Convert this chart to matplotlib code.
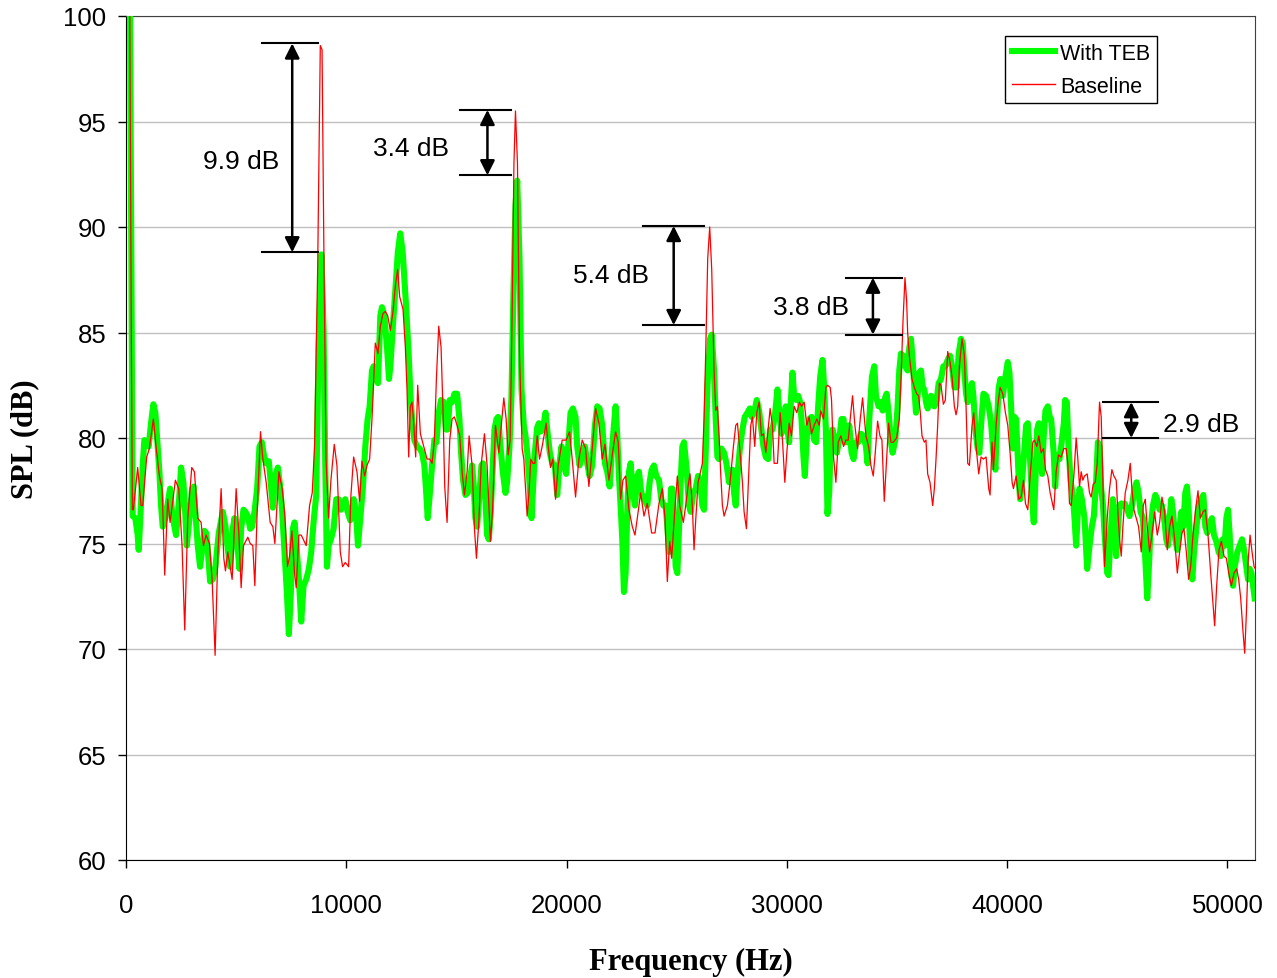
import matplotlib.pyplot as plt

# SPL spectra, baseline vs. with TEB
baseline_hz = [
    0, 160, 240, 290, 333, 530, 682, 758, 939, 1060, 1242, 1364, 1515, 1636, 1697, 1757,
    1894, 2000, 2242, 2394, 2545, 2666, 2803, 2985, 3106, 3257, 3409, 3515, 3636, 3788,
    3909, 4045, 4166, 4318, 4439, 4515, 4621, 4818, 5000, 5121, 5227, 5333, 5530, 5636,
    5757, 5848, 5954, 6105, 6212, 6363, 6545, 6666, 6757, 6939, 7090, 7211, 7333, 7424,
    7530, 7651, 7727, 7848, 7954, 8181, 8333, 8454, 8560, 8700, 8820, 8900, 8990, 9080,
    9196, 9302, 9454, 9575, 9727, 9833, 9954, 10105, 10211, 10333, 10484, 10605, 10711,
    10832, 10938, 11060, 11166, 11317, 11438, 11545, 11666, 11772, 11878, 12000, 12120,
    12226, 12330, 12423, 12575, 12681, 12757, 12832, 12908, 12984, 13060, 13150, 13241,
    13363, 13514, 13666, 13787, 13893, 14000, 14090, 14196, 14302, 14393, 14468, 14575,
    14696, 14802, 14908, 15029, 15150, 15256, 15362, 15484, 15575, 15711, 15817, 15908,
    16014, 16120, 16272, 16392, 16544, 16635, 16771, 16923, 17044, 17150, 17256, 17347,
    17438, 17529, 17610, 17680, 17771, 17862, 17983, 18059, 18135, 18210, 18286, 18377,
    18468, 18559, 18665, 18771, 18892, 19074, 19165, 19271, 19377, 19498, 19619, 19801,
    19983, 20134, 20255, 20407, 20558, 20710, 20861, 21013, 21164, 21316, 21467, 21619,
    21740, 21922, 22074, 22225, 22346, 22452, 22558, 22680, 22831, 22983, 23104, 23210,
    23361, 23513, 23664, 23861, 24013, 24195, 24346, 24467, 24573, 24679, 24770, 24907,
    25028, 25134, 25300, 25406, 25512, 25603, 25709, 25785, 25861, 25967, 26058, 26164,
    26240, 26315, 26406, 26497, 26588, 26694, 26770, 26846, 26921, 26997, 27073, 27149,
    27300, 27421, 27573, 27679, 27755, 27876, 27982, 28058, 28164, 28255, 28361, 28436,
    28542, 28633, 28739, 28845, 28936, 29042, 29148, 29239, 29345, 29421, 29572, 29694,
    29800, 29906, 29997, 30103, 30209, 30330, 30451, 30572, 30663, 30785, 30906, 31012,
    31118, 31239, 31360, 31466, 31542, 31663, 31769, 31845, 31966, 32027, 32118, 32224,
    32330, 32451, 32572, 32678, 32785, 32875, 32981, 33087, 33208, 33330, 33436, 33588,
    33709, 33815, 33921, 34012, 34118, 34224, 34315, 34421, 34527, 34618, 34724, 34830,
    34982, 35103, 35194, 35270, 35361, 35436, 35482, 35558, 35679, 35785, 35891, 35982,
    36057, 36133, 36239, 36315, 36391, 36497, 36618, 36694, 36770, 36845, 36921, 36997,
    37103, 37194, 37300, 37406, 37497, 37603, 37679, 37754, 37830, 37951, 38057, 38133,
    38209, 38285, 38406, 38481, 38588, 38709, 38815, 38921, 39042, 39163, 39224, 39315,
    39375, 39497, 39572, 39678, 39800, 39921, 40027, 40133, 40224, 40285, 40406, 40527,
    40633, 40739, 40830, 40936, 41042, 41163, 41239, 41345, 41436, 41542, 41648, 41739,
    41845, 41951, 42117, 42223, 42329, 42450, 42572, 42678, 42753, 42829, 42905, 43026,
    43132, 43208, 43284, 43360, 43435, 43511, 43632, 43738, 43814, 43905, 43996, 44087,
    44193, 44269, 44344, 44420, 44541, 44647, 44753, 44844, 44950, 45026, 45102, 45178,
    45253, 45359, 45481, 45587, 45662, 45753, 45859, 45965, 46087, 46177, 46268, 46359,
    46465, 46571, 46693, 46814, 46920, 47026, 47147, 47268, 47374, 47480, 47602, 47723,
    47829, 47935, 48026, 48132, 48238, 48329, 48435, 48541, 48662, 48768, 48889, 48995,
    49117, 49238, 49344, 49419, 49510, 49616, 49723, 49844, 49950, 50056, 50177, 50298,
    50419, 50510, 50601, 50707, 50783, 50859, 50935, 51026, 51116, 51208, 51268,
]
baseline_db = [
    103, 103, 85, 76.6, 76.6, 78.6, 76.8, 76.8, 79.1, 79.5, 80.9, 79.6, 78.2, 77.6, 75.7, 73.5,
    77.1, 76.0, 78.0, 77.6, 74.9, 70.9, 76.2, 78.6, 78.4, 76.2, 76.0, 74.9, 75.4, 75.0,
    73.3, 69.7, 74.4, 77.6, 74.3, 73.7, 74.6, 73.3, 77.6, 75.5, 72.9, 74.9, 75.3, 75.0,
    74.9, 73.0, 76.5, 80.3, 79.0, 77.9, 76.0, 75.8, 75.0, 78.4, 77.6, 76.3, 73.9, 74.4,
    75.6, 73.6, 72.9, 75.4, 75.4, 74.9, 76.8, 77.4, 79.6, 88.0, 98.6, 98.4, 88.0, 79.0,
    76.2, 78.0, 79.7, 78.7, 74.6, 73.9, 74.1, 73.9, 77.3, 79.1, 78.4, 77.0, 78.9,
    78.2, 78.7, 79.0, 80.9, 84.5, 84.0, 85.3, 85.9, 86.0, 85.8, 85.1, 86.0,
    87.2, 88.0, 86.7, 86.1, 84.3, 82.3, 79.1, 81.5, 81.7, 80.7, 79.1, 82.5,
    80.2, 79.6, 79.0, 79.0, 78.8, 79.9, 82.8, 85.3, 84.3, 81.2, 77.7, 76.0,
    79.9, 80.9, 81.0, 80.6, 80.1, 78.4, 77.3, 78.4, 80.1, 78.7, 75.7, 74.3,
    76.0, 78.7, 80.2, 78.7, 75.1, 76.5, 80.6, 79.3, 80.7, 81.9, 80.9, 79.2,
    79.9, 86.0, 93.0, 95.5, 93.0, 84.0, 79.5, 79.0, 77.6, 76.3, 77.3, 79.0,
    78.8, 78.8, 80.1, 79.0, 79.6, 80.7, 79.6, 78.6, 79.0, 77.1, 78.7, 79.9,
    79.9, 80.3, 79.0, 77.2, 79.0, 79.9, 79.5, 77.7, 79.5, 81.4, 80.7, 79.0,
    79.7, 78.0, 79.2, 80.3, 79.8, 77.1, 78.0, 78.2, 76.6, 75.8, 75.4, 76.2,
    77.4, 76.3, 76.9, 75.5, 75.5, 76.9, 77.6, 76.2, 73.2, 75.1, 74.3, 76.5,
    78.2, 76.8, 76.0, 76.8, 77.7, 78.3, 76.8, 74.7, 76.1, 77.9, 78.3, 78.8,
    80.9, 84.0, 88.5, 90.0, 88.0, 83.2, 81.3, 81.5, 80.1, 78.3, 76.8, 76.3,
    76.8, 77.9, 79.6, 80.6, 80.7, 79.3, 77.9, 76.5, 75.7, 78.0, 80.6, 81.0,
    79.6, 81.2, 81.7, 80.1, 80.2, 79.3, 80.4, 81.4, 80.6, 78.8, 78.8, 81.2,
    79.9, 77.9, 79.3, 80.7, 80.1, 81.5, 81.2, 81.7, 81.5, 81.7, 80.6, 81.0,
    80.2, 80.6, 80.9, 80.6, 81.3, 80.9, 82.4, 82.5, 82.4, 81.8, 79.1, 77.9,
    79.8, 80.1, 79.6, 79.9, 79.9, 80.9, 82.0, 80.6, 79.5, 80.9, 81.9, 80.1,
    79.6, 78.7, 78.2, 79.3, 80.8, 80.1, 79.9, 77.0, 79.0, 80.7, 79.8, 79.8,
    80.0, 80.9, 83.2, 85.5, 87.6, 86.5, 85.0, 83.9, 82.8, 82.4, 82.1, 82.0,
    81.2, 80.1, 79.8, 79.9, 78.3, 77.9, 76.8, 77.6, 79.0, 80.6, 82.6, 82.5,
    81.6, 81.8, 84.1, 83.6, 82.9, 81.5, 81.1, 81.5, 83.4, 84.7, 83.9, 81.5,
    78.8, 78.7, 80.6, 81.2, 79.6, 78.3, 79.1, 79.0, 79.1, 77.6, 77.3, 79.8,
    78.5, 80.6, 81.5, 82.4, 82.1, 81.2, 80.6, 79.3, 77.9, 77.6, 78.2, 77.1,
    77.2, 78.0, 76.9, 76.6, 78.2, 79.8, 79.9, 79.6, 80.1, 79.3, 79.5, 78.5,
    78.2, 77.4, 76.6, 78.4, 79.2, 79.1, 79.5, 79.5, 78.8, 76.9, 76.8, 78.2,
    80.0, 79.0, 77.7, 78.4, 78.0, 78.2, 78.3, 77.4, 77.2, 77.8, 77.9, 78.8,
    81.7, 81.0, 78.0, 73.9, 76.2, 77.6, 78.5, 78.2, 78.0, 76.5, 75.2, 74.4,
    75.8, 77.4, 78.0, 78.8, 77.6, 76.6, 76.2, 75.8, 74.6, 76.8, 77.1, 75.8,
    74.6, 75.4, 76.5, 75.4, 76.0, 77.2, 76.5, 74.7, 75.8, 76.3, 75.2, 73.6,
    74.6, 75.5, 75.7, 74.6, 73.3, 73.9, 75.4, 76.5, 77.5, 76.2, 76.5, 76.6,
    75.4, 73.6, 72.1, 71.1, 73.0, 74.7, 75.1, 74.4, 74.3, 73.6, 73.0, 73.6,
    73.8, 73.3, 72.4, 70.8, 69.8, 71.7, 74.1, 75.4, 74.6, 73.9, 73.8,
]

teb_hz = [
    0, 170, 260, 303, 424, 530, 576, 682, 758, 833, 939, 1030, 1136, 1242, 1333, 1439,
    1515, 1591, 1667, 1788, 1894, 2000, 2091, 2197, 2273, 2394, 2500, 2606, 2697, 2757,
    2879, 3000, 3075, 3182, 3257, 3363, 3454, 3560, 3636, 3712, 3818, 3939, 4060, 4212,
    4394, 4515, 4621, 4727, 4848, 4924, 5030, 5151, 5227, 5333, 5424, 5530, 5636, 5727,
    5833, 5954, 6060, 6166, 6257, 6363, 6484, 6590, 6666, 6772, 6893, 6999, 7090, 7196,
    7302, 7393, 7484, 7575, 7651, 7757, 7848, 7954, 8060, 8181, 8302, 8408, 8514, 8636,
    8742, 8870, 8969, 9045, 9121, 9196, 9302, 9424, 9545, 9651, 9757, 9848, 9954, 10060,
    10181, 10333, 10439, 10530, 10636, 10757, 10863, 10969, 11060, 11166, 11242, 11347,
    11438, 11545, 11620, 11726, 11848, 11939, 12000, 12120, 12226, 12340, 12450, 12560,
    12700, 12830, 12908, 12984, 13090, 13211, 13332, 13438, 13544, 13635, 13696, 13787,
    13893, 14000, 14090, 14196, 14302, 14423, 14529, 14605, 14696, 14802, 14908, 15029,
    15135, 15211, 15302, 15408, 15514, 15605, 15711, 15787, 15862, 15938, 16044, 16135,
    16211, 16302, 16392, 16468, 16544, 16620, 16726, 16817, 16892, 16998, 17104, 17226,
    17301, 17407, 17498, 17589, 17680, 17760, 17862, 17953, 18059, 18135, 18225, 18316,
    18407, 18483, 18559, 18665, 18741, 18816, 18922, 19043, 19150, 19240, 19347, 19468,
    19574, 19680, 19771, 19877, 19983, 20074, 20180, 20286, 20407, 20483, 20589, 20710,
    20831, 20937, 21043, 21164, 21286, 21392, 21498, 21619, 21740, 21846, 21952, 22043,
    22149, 22225, 22301, 22377, 22452, 22528, 22604, 22680, 22755, 22831, 22907, 22983,
    23104, 23210, 23286, 23392, 23513, 23664, 23770, 23861, 23967, 24073, 24195, 24301,
    24392, 24498, 24573, 24649, 24740, 24801, 24876, 24952, 25028, 25104, 25180, 25255,
    25331, 25452, 25558, 25634, 25755, 25861, 25967, 26058, 26164, 26240, 26315, 26391,
    26512, 26590, 26694, 26770, 26846, 26921, 27027, 27149, 27255, 27376, 27452, 27527,
    27603, 27679, 27755, 27876, 27982, 28088, 28209, 28315, 28406, 28512, 28633, 28739,
    28845, 28936, 29042, 29148, 29239, 29345, 29451, 29572, 29648, 29754, 29845, 29951,
    30027, 30103, 30179, 30254, 30330, 30436, 30512, 30603, 30663, 30754, 30815, 30906,
    31012, 31118, 31239, 31330, 31421, 31512, 31618, 31693, 31769, 31845, 31921, 31996,
    32072, 32178, 32269, 32375, 32481, 32572, 32663, 32754, 32830, 32936, 33027, 33133,
    33239, 33360, 33481, 33588, 33664, 33740, 33861, 33967, 34043, 34164, 34270, 34346,
    34421, 34527, 34618, 34724, 34800, 34921, 35027, 35103, 35179, 35285, 35376, 35482,
    35558, 35633, 35709, 35785, 35861, 35936, 36012, 36088, 36164, 36239, 36315, 36391,
    36467, 36542, 36618, 36694, 36800, 36891, 36997, 37103, 37194, 37300, 37406, 37497,
    37603, 37709, 37800, 37906, 37981, 38057, 38133, 38209, 38315, 38406, 38466, 38557,
    38663, 38739, 38815, 38921, 39042, 39163, 39269, 39375, 39466, 39542, 39618, 39694,
    39800, 39921, 40027, 40103, 40179, 40254, 40330, 40406, 40527, 40588, 40679, 40769,
    40860, 40936, 41012, 41087, 41163, 41208, 41284, 41360, 41436, 41496, 41587, 41648,
    41739, 41845, 41951, 41996, 42117, 42178, 42269, 42375, 42450, 42572, 42632, 42708,
    42784, 42875, 42981, 43057, 43132, 43208, 43284, 43390, 43511, 43632, 43738, 43844,
    43935, 44041, 44117, 44193, 44269, 44344, 44420, 44541, 44602, 44693, 44799, 44875,
    44950, 45026, 45102, 45178, 45253, 45329, 45450, 45556, 45662, 45784, 45874, 45965,
    46056, 46162, 46268, 46359, 46420, 46511, 46617, 46723, 46814, 46920, 47026, 47147,
    47223, 47299, 47374, 47450, 47526, 47632, 47723, 47829, 47905, 47995, 48086, 48162,
    48238, 48329, 48405, 48480, 48586, 48692, 48814, 48905, 48995, 49086, 49192, 49298,
    49389, 49495, 49601, 49692, 49783, 49874, 49950, 50026, 50101, 50177, 50253, 50329,
    50450, 50556, 50662, 50753, 50859, 50935, 51011, 51087, 51162, 51238,
]
teb_db = [
    103, 103, 85, 76.3, 76.2, 75.4, 74.7, 76.9, 78.7, 79.9, 79.8, 79.6, 80.7, 81.6, 81.2, 79.6,
    78.4, 76.8, 75.8, 76.2, 76.9, 77.6, 76.5, 75.8, 75.4, 76.8, 78.6, 77.9, 76.3, 74.9,
    76.2, 77.6, 77.7, 76.0, 74.9, 73.9, 74.7, 75.6, 75.5, 74.7, 73.2, 73.3, 73.9, 75.5,
    76.5, 75.8, 74.7, 73.9, 75.7, 76.2, 75.2, 73.8, 75.7, 76.6, 76.5, 76.3, 75.7, 75.8,
    76.5, 77.6, 79.6, 79.8, 79.2, 78.8, 78.9, 77.6, 76.7, 78.2, 78.6, 77.7, 76.5, 74.6,
    72.7, 70.7, 72.7, 75.7, 76.0, 74.7, 73.3, 71.3, 73.0, 73.3, 73.8, 74.6, 76.0, 77.3,
    84.3, 88.7, 85.1, 78.8, 73.9, 74.9, 75.2, 75.7, 77.1, 77.1, 76.6, 76.8, 77.1, 76.5,
    76.1, 77.1, 76.5, 74.9, 76.2, 77.7, 79.6, 80.9, 81.5, 83.2, 83.4, 82.8,
    82.6, 85.8, 86.2, 85.8, 84.3, 82.8, 83.4, 85.4, 87.0, 88.8, 89.7, 88.8,
    86.5, 84.0, 82.1, 80.9, 79.9, 79.6, 79.5, 79.3, 78.7, 77.3, 76.2, 77.3,
    78.7, 79.9, 79.8, 81.2, 81.8, 81.7, 80.4, 80.4, 81.8, 81.7, 82.1, 82.1,
    80.9, 79.3, 78.0, 77.3, 77.4, 78.0, 78.7, 77.7, 76.2, 75.8, 77.3, 78.7,
    78.8, 77.4, 75.4, 75.2, 76.2, 78.0, 80.4, 80.9, 81.0, 79.6, 78.4, 77.4,
    77.9, 79.6, 82.0, 87.0, 91.0, 92.2, 88.5, 82.3, 80.6, 80.1, 79.2, 77.9,
    76.2, 77.7, 79.3, 80.5, 80.7, 80.3, 80.4, 81.2, 80.1, 79.3, 78.8, 78.7,
    77.3, 78.8, 79.6, 78.7, 78.3, 79.6, 81.2, 81.4, 81.0, 79.6, 78.7, 79.2,
    79.6, 78.8, 78.2, 78.7, 80.6, 81.5, 81.4, 80.6, 78.8, 78.4, 77.7, 79.2,
    80.6, 81.5, 80.1, 78.2, 76.8, 75.2, 72.7, 73.6, 76.5, 78.4, 78.8, 77.7,
    76.8, 78.2, 78.4, 77.4, 77.1, 76.8, 77.9, 78.5, 78.7, 78.2, 78.0, 77.1,
    76.8, 76.8, 75.8, 74.6, 77.6, 77.6, 76.0, 73.9, 73.6, 75.7, 78.0, 79.6,
    79.8, 78.5, 76.8, 76.5, 77.4, 77.6, 78.2, 78.0, 76.8, 76.6, 79.3, 82.4,
    84.7, 84.9, 83.2, 80.9, 79.1, 79.0, 79.5, 79.3, 78.8, 77.9, 78.2, 78.5,
    77.4, 76.8, 78.2, 79.6, 80.4, 81.0, 81.2, 81.4, 81.0, 81.2, 81.8, 81.3,
    80.4, 79.6, 79.1, 79.0, 80.4, 80.4, 81.0, 82.3, 81.3, 80.2, 80.9, 81.5,
    80.4, 79.8, 81.7, 83.1, 82.0, 81.8, 82.0, 81.7, 80.9, 79.1, 78.2, 80.1,
    80.9, 81.0, 79.9, 79.8, 81.5, 82.9, 83.7, 82.4, 80.4, 76.4, 77.4, 79.9,
    80.4, 79.9, 79.3, 79.9, 80.9, 80.9, 79.8, 79.8, 80.6, 79.3, 79.0, 79.8,
    79.8, 80.2, 80.1, 79.6, 78.8, 80.9, 82.9, 83.4, 82.0, 81.5, 81.7, 81.3,
    81.8, 82.1, 81.2, 79.8, 79.3, 79.9, 81.5, 83.2, 84.0, 83.9, 83.4, 83.2,
    84.3, 84.7, 83.7, 82.4, 81.2, 82.0, 83.1, 83.2, 82.4, 82.3, 81.7, 81.4,
    81.7, 82.0, 81.8, 81.5, 81.8, 82.6, 82.8, 83.4, 83.4, 83.7, 83.9, 83.4,
    82.4, 82.4, 84.0, 84.7, 84.5, 83.2, 82.1, 81.7, 82.3, 82.6, 82.0, 80.4,
    79.5, 79.3, 80.6, 82.1, 82.0, 81.5, 80.7, 79.3, 78.5, 80.9, 82.4, 82.8,
    82.0, 82.9, 83.6, 83.1, 81.5, 79.5, 81.0, 80.9, 78.0, 77.1, 78.0, 79.3,
    80.6, 80.7, 79.6, 78.0, 76.6, 76.0, 78.0, 80.4, 80.7, 79.9, 78.3, 79.9,
    81.3, 81.5, 80.9, 80.9, 79.2, 77.7, 79.2, 79.0, 79.6, 80.7, 81.8, 81.7,
    79.6, 78.0, 77.3, 76.2, 74.9, 76.5, 77.6, 77.1, 76.2, 73.8, 74.9, 75.8,
    76.3, 78.0, 79.8, 79.6, 77.6, 76.9, 75.5, 73.6, 73.5, 75.4, 77.1, 76.2,
    74.4, 75.7, 76.8, 76.9, 76.8, 76.9, 76.6, 76.3, 76.8, 77.6, 77.9, 77.4,
    76.5, 76.2, 74.3, 72.4, 73.6, 75.7, 76.8, 77.3, 77.1, 76.6, 76.8, 76.0,
    75.2, 74.9, 76.2, 77.1, 76.5, 75.2, 74.7, 75.7, 76.5, 75.8, 77.4, 77.7,
    76.6, 74.3, 73.3, 74.6, 75.7, 76.8, 77.1, 77.3, 75.8, 75.5, 76.0, 76.2,
    75.4, 75.1, 74.6, 74.4, 75.2, 74.9, 76.2, 76.6, 75.4, 73.5, 73.0, 73.9,
    74.6, 74.9, 75.2, 74.7, 73.9, 73.3, 73.8, 73.6, 73.0, 72.4,
]

# difference brackets: arrow position, line extent, top/bottom levels and labels
ann_hz = [7545, 16407, 24862, 33906, 45632]
ann_x0 = [6181, 15180, 23453, 32680, 44360]
ann_x1 = [8727, 17498, 26226, 35225, 46860]
ann_top = [98.7, 95.55, 90.05, 87.6, 81.7]
ann_bot = [88.8, 92.45, 85.35, 84.9, 80.0]
ann_text = ['9.9 dB', '3.4 dB', '5.4 dB', '3.8 dB', '2.9 dB']
ann_text_hz = [5227, 12953, 22000, 31088, 48814]
ann_text_db = [93.13, 93.74, 87.73, 86.21, 80.66]

plt.rcParams['font.family'] = ['Liberation Sans', 'DejaVu Sans']

fig = plt.figure(figsize=(12.77, 9.79), dpi=100)
ax = fig.add_axes([126 / 1277, 1 - 861 / 979, 1129 / 1277, 844 / 979])

ax.plot(teb_hz, teb_db, color='#00ff00', lw=4.4, label='With TEB',
        solid_joinstyle='round', zorder=3)
ax.plot(baseline_hz, baseline_db, color='#ff0000', lw=0.9, label='Baseline', zorder=4)

for i in range(len(ann_hz)):
    ax.plot([ann_x0[i], ann_x1[i]], [ann_top[i], ann_top[i]], color='black', lw=1.5, zorder=5)
    ax.plot([ann_x0[i], ann_x1[i]], [ann_bot[i], ann_bot[i]], color='black', lw=1.5, zorder=5)
    ax.annotate('', xy=(ann_hz[i], ann_top[i]), xytext=(ann_hz[i], ann_bot[i]),
                arrowprops=dict(arrowstyle='<|-|>', color='black', lw=1.8,
                                mutation_scale=22, shrinkA=0, shrinkB=0), zorder=5)
    ax.text(ann_text_hz[i], ann_text_db[i], ann_text[i], fontsize=19,
            ha='center', va='center', zorder=6)

ax.set_xlim(0, 51250)
ax.set_ylim(60, 100)
ax.set_xticks([0, 10000, 20000, 30000, 40000, 50000])
ax.set_yticks(range(60, 101, 5))
ax.grid(axis='y', color='#c0c0c0', lw=1)
ax.set_axisbelow(True)
for side in ['top', 'right']:
    ax.spines[side].set_color('#404040')
for side in ['left', 'bottom']:
    ax.spines[side].set_color('black')
ax.tick_params(axis='both', direction='out', length=6, width=1, labelsize=18.5)
ax.tick_params(axis='x', pad=18)
ax.tick_params(axis='y', pad=8)

ax.set_xlabel('Frequency (Hz)', family='Liberation Serif', fontweight='bold', fontsize=22)
ax.set_ylabel('SPL (dB)', family='Liberation Serif', fontweight='bold', fontsize=22)
ax.xaxis.set_label_coords(0.5, -0.103)
ax.yaxis.set_label_coords(-0.077, 0.5)

leg = ax.legend(loc='upper right', bbox_to_anchor=(0.913, 0.976), borderaxespad=0,
                fontsize=15.5, frameon=True, fancybox=False, edgecolor='black',
                framealpha=1, handlelength=2.0, borderpad=0.3, labelspacing=0.55,
                handletextpad=0.25)
leg.get_frame().set_linewidth(1)
leg.get_lines()[1].set_linewidth(1.0)

fig.savefig('out.png', dpi=100)
